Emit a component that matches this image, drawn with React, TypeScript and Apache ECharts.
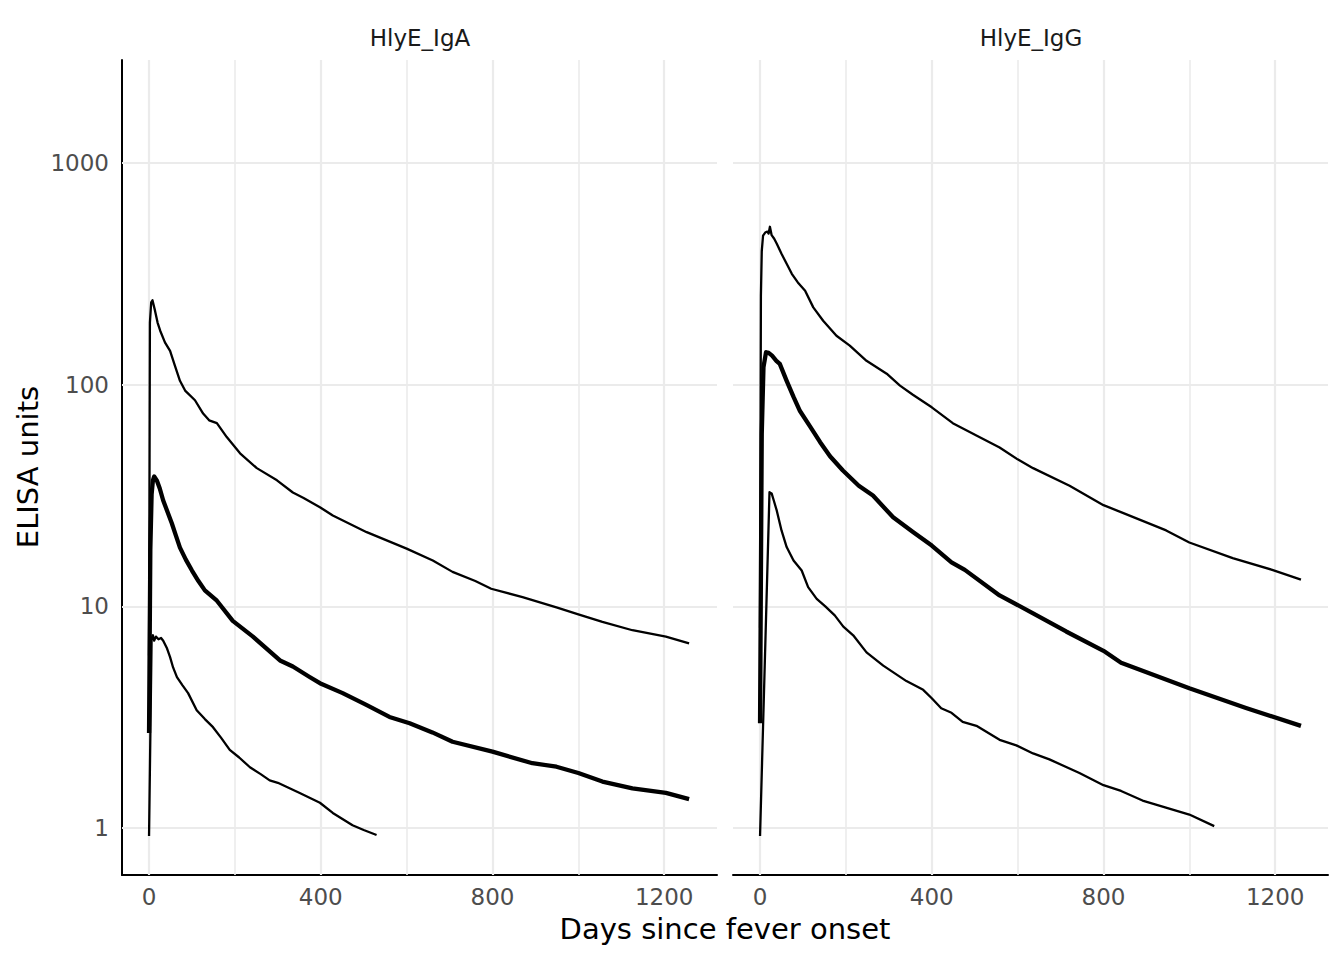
import React, { useEffect, useRef } from "react";
import * as echarts from "echarts";

// Facet titles and axis titles
const panelTitles = ["HlyE_IgA", "HlyE_IgG"];
const xTitle = "Days since fever onset";
const yTitle = "ELISA units";

// Tick values / labels
const xMajor = [0, 400, 800, 1200];
const xMinor = [200, 600, 1000];
const yMajor = [1, 10, 100, 1000];
const xTickLabels = ["0", "400", "800", "1200"];
const yTickLabels = ["1", "10", "100", "1000"];

// HlyE_IgA curves: [day, ELISA units]
const igaUpper = [
  [0, 6], [2, 190], [5, 235], [8, 240], [14, 215], [20, 190], [26, 175], [37, 155], [49, 142],
  [60, 122], [72, 104], [84, 94], [107, 85], [126, 74], [140, 69], [158, 67], [181, 58],
  [212, 49], [251, 42], [298, 37], [335, 32.6], [360, 30.8], [398, 28], [428, 25.7],
  [507, 21.6], [600, 18.2], [661, 16.1], [707, 14.3], [760, 13], [797, 12.0], [870, 11],
  [949, 9.9], [1000, 9.2], [1056, 8.5], [1126, 7.8], [1204, 7.3], [1258, 6.8],
];
const igaMedian = [
  [0, 2.68], [3, 18], [6, 32], [9, 37], [12, 38.5], [18, 37], [25, 34], [33, 30], [42, 27],
  [53, 23.7], [62, 21], [72, 18.4], [86, 16.2], [100, 14.5], [115, 13], [130, 11.8],
  [158, 10.6], [195, 8.6], [242, 7.3], [305, 5.7], [335, 5.35], [374, 4.8], [398, 4.5],
  [451, 4.06], [505, 3.6], [560, 3.17], [607, 2.97], [660, 2.7], [707, 2.45], [800, 2.21],
  [893, 1.96], [949, 1.89], [1000, 1.77], [1056, 1.62], [1126, 1.51], [1204, 1.44], [1258, 1.35],
];
const igaLower = [
  [0, 0.92], [6, 7.2], [9, 7.4], [12, 7.0], [16, 7.3], [22, 7.1], [28, 7.2], [33, 7.0],
  [42, 6.45], [49, 5.9], [56, 5.3], [65, 4.79], [78, 4.4], [91, 4.06], [111, 3.4], [130, 3.1],
  [149, 2.85], [168, 2.55], [188, 2.25], [210, 2.08], [235, 1.88], [260, 1.75], [281, 1.64],
  [300, 1.6], [351, 1.44], [398, 1.3], [428, 1.17], [474, 1.03], [500, 0.98], [530, 0.93],
];

// HlyE_IgG curves: [day, ELISA units]
const iggUpper = [
  [0, 8], [2, 250], [4, 400], [7, 470], [12, 485], [17, 490], [20, 480], [23, 515], [27, 472],
  [33, 455], [39, 432], [50, 389], [62, 351], [74, 316], [88, 289], [105, 265], [124, 223],
  [147, 194], [178, 166], [209, 150], [248, 128], [295, 112], [326, 99], [356, 90], [400, 79],
  [449, 67], [504, 59], [558, 52], [600, 46], [636, 42], [721, 35], [800, 28.6], [845, 26.4],
  [946, 22], [1000, 19.4], [1101, 16.5], [1193, 14.6], [1260, 13.2],
];
const iggMedian = [
  [0, 2.97], [4, 60], [8, 120], [14, 140], [20, 139], [28, 135], [38, 128], [46, 124],
  [62, 104], [78, 88], [93, 76], [116, 65], [140, 55], [163, 47.5], [193, 41], [230, 35],
  [263, 31.6], [310, 25.2], [357, 21.6], [400, 18.8], [446, 15.8], [477, 14.6], [558, 11.2],
  [636, 9.3], [713, 7.7], [800, 6.3], [841, 5.57], [1000, 4.27], [1132, 3.48], [1260, 2.89],
];
const iggLower = [
  [0, 0.92], [22, 32.7], [27, 32.3], [32, 30], [39, 27], [50, 22], [62, 18.5], [78, 16.1],
  [97, 14.5], [112, 12.2], [132, 10.8], [152, 10], [174, 9.1], [194, 8.1], [217, 7.4],
  [248, 6.2], [287, 5.4], [341, 4.6], [380, 4.2], [400, 3.85], [422, 3.47], [446, 3.31],
  [472, 3.01], [504, 2.89], [558, 2.5], [597, 2.36], [636, 2.17], [674, 2.04], [744, 1.77],
  [800, 1.56], [841, 1.47], [891, 1.33], [1000, 1.15], [1058, 1.02],
];

const FONT = "DejaVu Sans";

export default function App() {
  const ref = useRef<HTMLDivElement>(null);

  useEffect(() => {
    document.body.style.margin = "0";
    const chart = echarts.init(ref.current as HTMLDivElement, null, { renderer: "svg" });

    const xFmt = (v: number) => {
      const i = xMajor.indexOf(Math.round(v));
      return i >= 0 && Math.abs(v - xMajor[i]) < 1e-6 ? xTickLabels[i] : "";
    };
    const yFmt = (v: number) => {
      for (let i = 0; i < yMajor.length; i++) {
        if (Math.abs(v - yMajor[i]) / yMajor[i] < 1e-6) return yTickLabels[i];
      }
      return "";
    };

    const gridLines = [
      ...xMajor.map((v) => ({ xAxis: v, lineStyle: { width: 2.2 } })),
      ...xMinor.map((v) => ({ xAxis: v, lineStyle: { width: 1.6 } })),
      ...yMajor.map((v) => ({ yAxis: v, lineStyle: { width: 2.2 } })),
    ];

    const makeX = (idx: number) => ({
      type: "value",
      gridIndex: idx,
      min: -63,
      max: 1323,
      splitNumber: 7,
      axisLine: { show: true, onZero: false, lineStyle: { color: "#000", width: 2 } },
      axisTick: { show: false },
      splitLine: { show: false },
      axisLabel: {
        formatter: xFmt,
        color: "#4d4d4d",
        fontSize: 23,
        fontFamily: FONT,
        margin: 10,
        showMinLabel: false,
        showMaxLabel: false,
      },
    });
    const makeY = (idx: number) => ({
      type: "log",
      logBase: 10,
      gridIndex: idx,
      min: 0.614,
      max: 2911,
      axisLine: { show: idx === 0, onZero: false, lineStyle: { color: "#000", width: 2 } },
      axisTick: { show: false },
      splitLine: { show: false },
      axisLabel: {
        show: idx === 0,
        formatter: yFmt,
        color: "#4d4d4d",
        fontSize: 23,
        fontFamily: FONT,
        margin: 13,
        showMinLabel: false,
        showMaxLabel: false,
      },
    });

    const gridSeries = (idx: number) => ({
      type: "line",
      xAxisIndex: idx,
      yAxisIndex: idx,
      data: [],
      silent: true,
      z: 1,
      markLine: {
        silent: true,
        z: 1,
        symbol: ["none", "none"],
        label: { show: false },
        lineStyle: { color: "#ebebeb", type: "solid", width: 2 },
        emphasis: { disabled: true },
        data: gridLines,
      },
    });

    const curve = (idx: number, data: number[][], width: number) => ({
      type: "line",
      xAxisIndex: idx,
      yAxisIndex: idx,
      data,
      z: 3,
      showSymbol: false,
      symbol: "none",
      silent: true,
      lineStyle: { color: "#000", width, cap: "butt", join: "round" },
    });

    const option = {
      animation: false,
      backgroundColor: "#fff",
      grid: [
        { left: 122, top: 60, width: 595, height: 815 },
        { left: 733, top: 60, width: 595, height: 815 },
      ],
      xAxis: [makeX(0), makeX(1)],
      yAxis: [makeY(0), makeY(1)],
      series: [
        gridSeries(0),
        gridSeries(1),
        curve(0, igaUpper, 2.3),
        curve(0, igaLower, 2.3),
        curve(0, igaMedian, 4.3),
        curve(1, iggUpper, 2.3),
        curve(1, iggLower, 2.3),
        curve(1, iggMedian, 4.3),
      ],
      graphic: [
        {
          type: "text",
          x: 420,
          y: 38,
          style: {
            text: panelTitles[0], fontSize: 23, fontFamily: FONT, fill: "#1a1a1a",
            align: "center", verticalAlign: "middle",
          },
        },
        {
          type: "text",
          x: 1031,
          y: 38,
          style: {
            text: panelTitles[1], fontSize: 23, fontFamily: FONT, fill: "#1a1a1a",
            align: "center", verticalAlign: "middle",
          },
        },
        {
          type: "text",
          x: 725,
          y: 929,
          style: {
            text: xTitle, fontSize: 29, fontFamily: FONT, fill: "#000",
            align: "center", verticalAlign: "middle",
          },
        },
        {
          type: "text",
          x: 28,
          y: 467,
          rotation: Math.PI / 2,
          style: {
            text: yTitle, fontSize: 29, fontFamily: FONT, fill: "#000",
            align: "center", verticalAlign: "middle",
          },
        },
      ],
    };

    chart.setOption(option as any);
    return () => chart.dispose();
  }, []);

  return <div ref={ref} style={{ width: 1344, height: 960 }} />;
}
